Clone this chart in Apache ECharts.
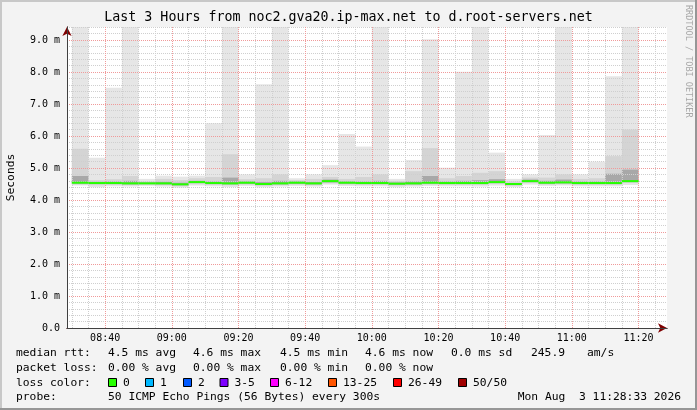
<!DOCTYPE html>
<html><head><meta charset="utf-8">
<script src="https://cdn.jsdelivr.net/npm/echarts@6/dist/echarts.min.js"></script>
<style>html,body{margin:0;padding:0;background:#f3f3f3}#c{width:697px;height:410px}</style>
</head><body><div id="c"></div>
<script>
const chartTitle = 'Last 3 Hours from noc2.gva20.ip-max.net to d.root-servers.net';
const plotStartTime = '08:28:33';
const plotEndTime = '11:28:33';
const stepMinutes = 5;
// end-of-step timestamps (300 s steps)
const stepTimes = ['08:35','08:40','08:45','08:50','08:55','09:00','09:05','09:10','09:15','09:20',
  '09:25','09:30','09:35','09:40','09:45','09:50','09:55','10:00','10:05','10:10',
  '10:15','10:20','10:25','10:30','10:35','10:40','10:45','10:50','10:55','11:00',
  '11:05','11:10','11:15','11:20'];
// values in ms
const rttMin = [4.45,4.40,4.43,4.42,4.44,4.42,4.39,4.45,4.43,4.41,4.44,4.40,4.42,4.44,4.42,4.48,4.44,4.43,4.43,4.40,4.42,4.44,4.43,4.43,4.42,4.45,4.40,4.48,4.44,4.45,4.43,4.43,4.43,4.47];
const rttP10 = [4.48,4.46,4.47,4.46,4.47,4.46,4.43,4.49,4.47,4.46,4.48,4.44,4.46,4.48,4.46,4.52,4.48,4.47,4.47,4.45,4.46,4.48,4.47,4.47,4.47,4.50,4.44,4.53,4.48,4.49,4.47,4.47,4.47,4.53];
const rttP25 = [4.51,4.50,4.50,4.49,4.50,4.49,4.46,4.53,4.50,4.49,4.51,4.47,4.49,4.51,4.49,4.55,4.51,4.50,4.50,4.48,4.49,4.51,4.50,4.50,4.50,4.53,4.47,4.56,4.51,4.52,4.50,4.50,4.50,4.56];
const rttMedian = [4.54,4.53,4.53,4.52,4.52,4.52,4.49,4.56,4.53,4.52,4.54,4.50,4.52,4.54,4.52,4.59,4.54,4.53,4.53,4.51,4.52,4.54,4.53,4.53,4.53,4.56,4.50,4.59,4.54,4.55,4.53,4.53,4.53,4.59];
const rttP75 = [4.75,4.57,4.58,4.60,4.55,4.57,4.54,4.60,4.58,4.70,4.58,4.56,4.60,4.58,4.56,4.64,4.58,4.58,4.60,4.55,4.58,4.75,4.58,4.60,4.62,4.65,4.53,4.64,4.60,4.64,4.58,4.58,4.82,4.95];
const rttP90 = [5.60,4.62,4.65,4.75,4.58,4.66,4.62,4.68,4.72,5.43,4.65,4.68,4.80,4.62,4.66,4.72,4.66,4.72,4.80,4.60,4.90,5.62,4.68,4.75,4.85,4.90,4.58,4.70,4.70,4.80,4.66,4.68,5.37,6.20];
const rttMax = [10.9,5.32,7.51,12.4,4.66,4.76,4.73,4.76,6.40,11.6,4.80,7.62,10.3,4.68,4.80,5.09,6.06,5.67,13.1,4.66,5.25,9.02,5.01,8.01,10.6,5.48,4.66,4.80,6.03,11.9,4.80,5.20,7.87,14.2];

const xMajorLabels = ['08:40','09:00','09:20','09:40','10:00','10:20','10:40','11:00','11:20'];
const yMajorTicks = [0,1,2,3,4,5,6,7,8,9];
const yMax = 9.406;

const rttStats = ['4.5 ms avg','4.6 ms max','4.5 ms min','4.6 ms now','0.0 ms sd','245.9','am/s'];
const lossStats = ['0.00 % avg','0.00 % max','0.00 % min','0.00 % now'];
const lossLabels = ['0','1','2','3-5','6-12','13-25','26-49','50/50'];
const lossColors = ['#26ff00','#00b8ff','#0059ff','#7e00ff','#ff00ff','#ff5500','#ff0000','#a10000'];
const probeText = '50 ICMP Echo Pings (56 Bytes) every 300s';
const stampText = 'Mon Aug  3 11:28:33 2026';
const watermark = 'RRDTOOL / TOBI OETIKER';

function toMin(s){const p=s.split(':').map(Number);return p[0]*60+p[1]+(p[2]||0)/60;}
function fmtTime(v){const h=Math.floor(v/60),m=Math.round(v-h*60);return String(h).padStart(2,'0')+':'+String(m).padStart(2,'0');}
const xMin = toMin(plotStartTime), xMax = toMin(plotEndTime);
const xMajor = xMajorLabels.map(toMin);
const xMinor = [];
for (let t = Math.ceil(xMin/stepMinutes)*stepMinutes; t < xMax; t += stepMinutes) if (t % 20 !== 0) xMinor.push(t);
const yMinor = [];
for (let i = 1; i * 0.2 < yMax; i++) if (i % 5 !== 0) yMinor.push(+(i*0.2).toFixed(1));

function layer(lo, hi, color){
  return {
    type:'custom', xAxisIndex:0, yAxisIndex:0, z:2, silent:true,
    encode:{x:[0,1], y:[2,3]},
    data: stepTimes.map((t,i)=>[toMin(t)-stepMinutes, toMin(t), lo[i], hi[i]]),
    renderItem(params, api){
      const a = api.coord([api.value(0), api.value(3)]);
      const b = api.coord([api.value(1), api.value(2)]);
      const cs = params.coordSys;
      const shape = echarts.graphic.clipRectByRect(
        {x:a[0], y:a[1], width:b[0]-a[0], height:b[1]-a[1]},
        {x:cs.x, y:cs.y, width:cs.width, height:cs.height});
      return shape && {type:'rect', shape, style:{fill:color}};
    }
  };
}
const medianSeries = {
  type:'custom', xAxisIndex:0, yAxisIndex:0, z:10, silent:true,
  encode:{x:[0,1], y:2},
  data: stepTimes.map((t,i)=>[toMin(t)-stepMinutes, toMin(t), rttMedian[i]]),
  renderItem(params, api){
    const a = api.coord([api.value(0), api.value(2)]);
    const b = api.coord([api.value(1), api.value(2)]);
    return {type:'line', shape:{x1:a[0], y1:a[1], x2:b[0], y2:b[1]}, style:{stroke:lossColors[0], lineWidth:2}};
  }
};

const mono = 'DejaVu Sans Mono';
const legendFont = '11.3px "DejaVu Sans Mono"';
const g = [];
function txt(x,y,s,opt){g.push(Object.assign({type:'text', x, y, silent:true, style:{text:s, font:legendFont, fill:'#000', textVerticalAlign:'middle'}}, opt||{}));}
// frame
g.push({type:'rect', shape:{x:0,y:0,width:697,height:2}, style:{fill:'#c8c8c8'}, silent:true});
g.push({type:'rect', shape:{x:0,y:0,width:2,height:410}, style:{fill:'#c8c8c8'}, silent:true});
g.push({type:'rect', shape:{x:0,y:408,width:697,height:2}, style:{fill:'#969696'}, silent:true});
g.push({type:'rect', shape:{x:695,y:0,width:2,height:410}, style:{fill:'#969696'}, silent:true});
g.push({type:'text', x:348.5, y:18, silent:true, style:{text:chartTitle, font:'13.3px "DejaVu Sans Mono"', fill:'#000', textAlign:'center', textVerticalAlign:'middle'}});
g.push({type:'text', x:688, y:5, rotation:-Math.PI/2, silent:true, style:{text:watermark, font:'8.5px "DejaVu Sans Mono"', fill:'#a8a8a8', textAlign:'left', textVerticalAlign:'middle'}});
const statX = [108,193,280,365,451,531,587];
txt(16,353,'median rtt:');
rttStats.forEach((s,i)=>txt(statX[i],353,s));
txt(16,368,'packet loss:');
lossStats.forEach((s,i)=>txt(statX[i],368,s));
txt(16,383,'loss color:');
const sqX = [108,145,183,219.5,270,328,393,458];
lossLabels.forEach((s,i)=>{
  g.push({type:'rect', silent:true, shape:{x:sqX[i]+0.5,y:378.5,width:8,height:8}, style:{fill:lossColors[i], stroke:'#000', lineWidth:1}});
  txt(sqX[i]+15,383,s);
});
txt(16,397,'probe:');
txt(108,397,probeText);
g.push({type:'text', x:681, y:397, silent:true, style:{text:stampText, font:legendFont, fill:'#000', textAlign:'right', textVerticalAlign:'middle'}});

const chart = echarts.init(document.getElementById('c'), null, {renderer:'canvas'});
chart.setOption({
  animation:false,
  backgroundColor:'#f3f3f3',
  grid:{left:67, right:30, top:27, bottom:82, show:true, backgroundColor:'#ffffff', borderWidth:0, containLabel:false, outerBoundsMode:'none'},
  xAxis:[
    {type:'value', min:xMin, max:xMax, position:'bottom', z:5,
     axisLine:{show:true, lineStyle:{color:'#404040', width:1}},
     axisTick:{show:false, customValues:xMajor},
     axisLabel:{customValues:xMajor, formatter:fmtTime, color:'#000', fontFamily:mono, fontSize:10, margin:5},
     splitLine:{show:true, lineStyle:{color:'#f09a9a', width:1, type:[1,1]}}},
    {type:'value', min:xMin, max:xMax, position:'bottom', z:4,
     axisLine:{show:true, lineStyle:{color:'#7f0000', width:1}, symbol:['none','arrow'], symbolSize:[7,9]},
     axisTick:{show:false, customValues:xMinor},
     axisLabel:{show:false},
     splitLine:{show:true, lineStyle:{color:'#cfcfcf', width:1, type:[1,1]}}}
  ],
  yAxis:[
    {type:'value', min:0, max:yMax, position:'left', z:5,
     name:'Seconds', nameLocation:'middle', nameGap:50,
     nameTextStyle:{fontFamily:mono, fontSize:11.3, color:'#000'},
     axisLine:{show:true, lineStyle:{color:'#404040', width:1}},
     axisTick:{show:false, customValues:yMajorTicks},
     axisLabel:{customValues:yMajorTicks, formatter:v=>v===0?'0.0':v.toFixed(1)+' m', color:'#000', fontFamily:mono, fontSize:10, margin:7},
     splitLine:{show:true, lineStyle:{color:'#f09a9a', width:1, type:[1,1]}}},
    {type:'value', min:0, max:yMax, position:'left', z:4,
     axisLine:{show:true, lineStyle:{color:'#7f0000', width:1}, symbol:['none','arrow'], symbolSize:[7,9]},
     axisTick:{show:false, customValues:yMinor},
     axisLabel:{show:false},
     splitLine:{show:true, lineStyle:{color:'#cfcfcf', width:1, type:[1,1]}}}
  ],
  series:[
    layer(rttMin, rttMax, '#e6e6e6'),
    layer(rttP10, rttP90, '#d4d4d4'),
    layer(rttP25, rttP75, '#a8a8a8'),
    medianSeries
  ],
  graphic:g
});
</script></body></html>
